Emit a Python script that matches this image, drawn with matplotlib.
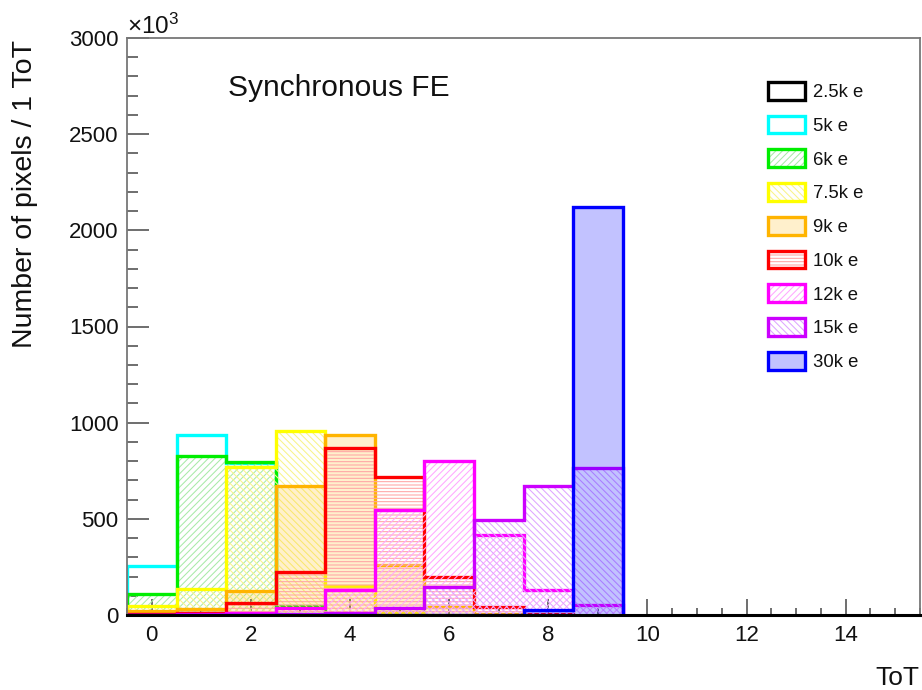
import numpy as np
import matplotlib
matplotlib.use("Agg")
import matplotlib.pyplot as plt
from matplotlib.patches import Patch
from matplotlib.legend_handler import HandlerTuple
from matplotlib.ticker import MultipleLocator

plt.rcParams['font.family'] = ['Liberation Sans', 'DejaVu Sans']
plt.rcParams['mathtext.fontset'] = 'custom'
plt.rcParams['mathtext.rm'] = 'Liberation Sans'
plt.rcParams['mathtext.it'] = 'Liberation Sans:italic'
plt.rcParams['hatch.linewidth'] = 0.75

# ---------------- data (counts in units of 10^3 pixels) ----------------
tot_bins = np.arange(16)
series_labels = ['2.5k e', '5k e', '6k e', '7.5k e', '9k e', '10k e', '12k e', '15k e', '30k e']
counts_2p5k = [8, 8, 3, 0, 0, 0, 0, 0, 0, 0, 0, 0, 0, 0, 0, 0]
counts_5k = [255, 935, 790, 5, 0, 0, 0, 0, 0, 0, 0, 0, 0, 0, 0, 0]
counts_6k = [108, 825, 795, 45, 5, 0, 0, 0, 0, 0, 0, 0, 0, 0, 0, 0]
counts_7p5k = [45, 135, 768, 955, 150, 15, 2, 0, 0, 0, 0, 0, 0, 0, 0, 0]
counts_9k = [20, 30, 125, 670, 938, 258, 40, 5, 0, 0, 0, 0, 0, 0, 0, 0]
counts_10k = [5, 12, 60, 225, 870, 720, 195, 40, 5, 0, 0, 0, 0, 0, 0, 0]
counts_12k = [2, 3, 12, 35, 130, 545, 800, 418, 128, 50, 0, 0, 0, 0, 0, 0]
counts_15k = [0, 1, 2, 5, 10, 35, 148, 493, 670, 763, 0, 0, 0, 0, 0, 0]
counts_30k = [0, 0, 0, 0, 0, 0, 0, 0, 25, 2122, 0, 0, 0, 0, 0, 0]
all_counts = [counts_2p5k, counts_5k, counts_6k, counts_7p5k, counts_9k,
              counts_10k, counts_12k, counts_15k, counts_30k]

# ---------------- styles ----------------
line_colors = ['#000000', '#00FFFF', '#00EE00', '#FFFF00', '#FFB400',
               '#FF0000', '#FF00FF', '#CC00FF', '#0000FF']
fill_faces = ['none', 'none', 'none', 'none', (1.0, 0.72, 0.0, 0.2),
              'none', 'none', 'none', (0.0, 0.0, 1.0, 0.24)]
hatches = [None, None, '/////', '\\\\\\\\\\', None, '-----', '/////', '\\\\\\\\\\', None]
hatch_colors = ['none', 'none', '#A8EAA8', '#F8F48A', 'none',
                '#FFA4A4', '#FFA8FF', '#DEA6FF', 'none']

fig = plt.figure(figsize=(9.22, 6.9), dpi=100)
W, H = 922, 690
ax = fig.add_axes([127 / W, 1 - 615 / H, (920 - 127) / W, (615 - 38) / H])

edges = np.arange(-0.5, 16.0, 1.0)
handles = []
for i, vals in enumerate(all_counts):
    vals = np.asarray(vals, dtype=float)
    z = 2 + i
    fc = fill_faces[i]
    h = hatches[i]
    if h is not None or fc != 'none':
        ax.bar(tot_bins, vals, width=1.0, align='center', facecolor=fc,
               edgecolor=hatch_colors[i] if h else 'none', hatch=h,
               linewidth=0, zorder=z)
    last = np.nonzero(vals)[0].max()
    ax.stairs(vals[:last + 1], edges[:last + 2], baseline=0,
              color=line_colors[i], linewidth=2.4, zorder=z + 0.5)
    p1 = Patch(facecolor=fc if fc != 'none' else 'white',
               edgecolor=hatch_colors[i] if h else 'none', hatch=h, linewidth=0)
    p2 = Patch(facecolor='none', edgecolor=line_colors[i], linewidth=2.4)
    handles.append((p1, p2))

ax.set_xlim(-0.5, 15.5)
ax.set_ylim(0, 3000)
ax.set_axisbelow(True)

ax.xaxis.set_major_locator(MultipleLocator(2))
ax.xaxis.set_minor_locator(MultipleLocator(0.5))
ax.yaxis.set_major_locator(MultipleLocator(500))
ax.yaxis.set_minor_locator(MultipleLocator(100))

ax.tick_params(axis='both', which='both', direction='in', colors='#555555',
               labelcolor='#111111', labelsize=16, width=1.2)
ax.tick_params(axis='x', which='major', length=11.5, pad=7)
ax.tick_params(axis='x', which='minor', length=5)
ax.tick_params(axis='y', which='major', length=15.5, pad=6)
ax.tick_params(axis='y', which='minor', length=8)

for s in ['left', 'top', 'right']:
    ax.spines[s].set_color('#777777')
    ax.spines[s].set_linewidth(1.3)
ax.spines['bottom'].set_color('#000000')
ax.spines['bottom'].set_linewidth(2.2)
for s in ax.spines.values():
    s.set_zorder(20)

# axis titles
fig.text(919 / W, 1 - 685 / H, 'ToT', ha='right', va='baseline', fontsize=19,
         color='#111111')
fig.text(25 / W, 1 - 40 / H, 'Number of pixels / 1 ToT', rotation=90,
         ha='center', va='top', fontsize=20.5, color='#111111')
fig.text(127 / W, 1 - 34 / H, r'$\times10^{3}$', ha='left', va='baseline',
         fontsize=17.5, color='#111111')
fig.text(228 / W, 1 - 96 / H, 'Synchronous FE', ha='left', va='baseline',
         fontsize=21.5, color='#111111')

leg = ax.legend(handles, series_labels,
                handler_map={tuple: HandlerTuple(ndivide=1, pad=0)},
                loc='upper left', bbox_to_anchor=(768 / W, 1 - 82 / H),
                bbox_transform=fig.transFigure, frameon=False, fontsize=13.3,
                handlelength=2.0, handleheight=1.1, handletextpad=0.45,
                labelspacing=0.79, borderpad=0, borderaxespad=0)
for t in leg.get_texts():
    t.set_color('#111111')
leg.set_zorder(30)

fig.savefig('out.png', dpi=100)
